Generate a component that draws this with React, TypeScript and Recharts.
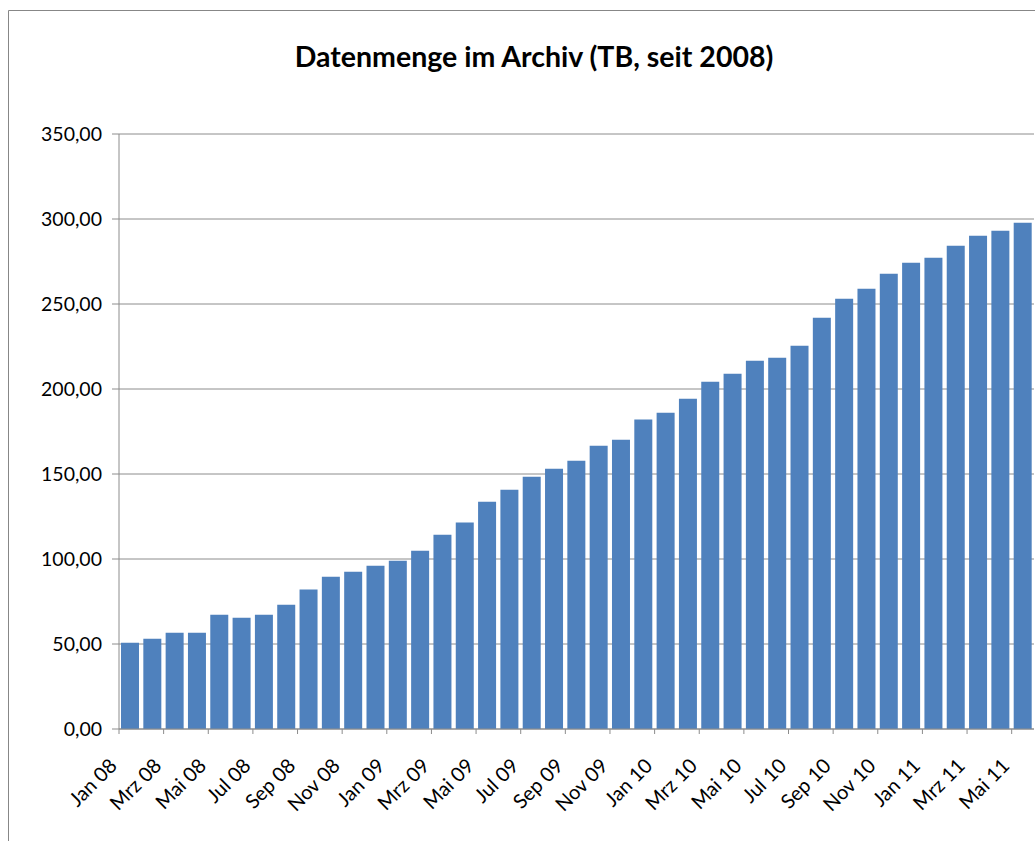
import React from 'react';
import { BarChart, Bar, XAxis, YAxis, CartesianGrid } from 'recharts';

// months Jan 08 .. Mai 11
const monthLabels = [
  'Jan 08', 'Feb 08', 'Mrz 08', 'Apr 08', 'Mai 08', 'Jun 08', 'Jul 08', 'Aug 08', 'Sep 08', 'Okt 08', 'Nov 08', 'Dez 08',
  'Jan 09', 'Feb 09', 'Mrz 09', 'Apr 09', 'Mai 09', 'Jun 09', 'Jul 09', 'Aug 09', 'Sep 09', 'Okt 09', 'Nov 09', 'Dez 09',
  'Jan 10', 'Feb 10', 'Mrz 10', 'Apr 10', 'Mai 10', 'Jun 10', 'Jul 10', 'Aug 10', 'Sep 10', 'Okt 10', 'Nov 10', 'Dez 10',
  'Jan 11', 'Feb 11', 'Mrz 11', 'Apr 11', 'Mai 11',
];

// TB im Archiv
const archiveTB = [
  50.8, 53.1, 56.6, 56.6, 67.2, 65.5, 67.2, 73.1, 82.0, 89.6, 92.5, 96.1,
  99.0, 104.9, 114.3, 121.4, 133.7, 140.8, 148.4, 153.1, 157.8, 166.6, 170.2, 182.0,
  186.1, 194.3, 204.3, 209.0, 216.6, 218.4, 225.5, 241.9, 253.1, 259.0, 267.8, 274.3,
  277.2, 284.3, 290.2, 293.1, 297.8,
];

const yTicks = [0, 50, 100, 150, 200, 250, 300, 350];

const data = monthLabels.map((m, i) => ({ month: m, tb: archiveTB[i] }));

const W = 1035;
const H = 841;
const LEFT = 119;
const RIGHT = 1;
const HALF_BAND = (W - LEFT - RIGHT) / monthLabels.length / 2;
const FONT = 'Lato, "Noto Sans", sans-serif';
const AXIS_GRAY = '#8c8c8c';

const MonthTick = (props: any) => {
  const { x, y, payload } = props;
  const bx = x - HALF_BAND;
  return (
    <g>
      <line x1={bx} y1={y} x2={bx} y2={y + 5} stroke={AXIS_GRAY} />
      <text
        x={x - 12}
        y={y + 38}
        textAnchor="end"
        transform={`rotate(-45, ${x - 12}, ${y + 38})`}
        fontFamily={FONT}
        fontSize={20}
        fill="#000"
      >
        {payload.value}
      </text>
    </g>
  );
};

export default function App() {
  return (
    <div style={{ position: 'absolute', left: 0, top: 0, width: W, height: H, background: '#fff' }}>
      <BarChart
        width={W}
        height={H}
        data={data}
        margin={{ top: 134, right: RIGHT, left: 0, bottom: 0 }}
        barCategoryGap="9%"
      >
        <CartesianGrid horizontal vertical={false} stroke={AXIS_GRAY} />
        <XAxis
          dataKey="month"
          interval={1}
          height={112}
          tickLine={false}
          tickSize={0}
          tickMargin={0}
          axisLine={{ stroke: AXIS_GRAY }}
          tick={<MonthTick />}
        />
        <YAxis
          width={LEFT}
          domain={[0, 350]}
          ticks={yTicks}
          tickSize={7}
          tickMargin={10}
          axisLine={{ stroke: AXIS_GRAY }}
          tickLine={{ stroke: AXIS_GRAY }}
          tickFormatter={(v: number) => v.toFixed(2).replace('.', ',')}
          tick={{ fontFamily: FONT, fontSize: 19.5, fill: '#000' }}
        />
        <Bar dataKey="tb" fill="#4f81bd" isAnimationActive={false} />
      </BarChart>
      <svg
        width={W}
        height={H}
        style={{ position: 'absolute', left: 0, top: 0, pointerEvents: 'none' }}
      >
        <path d={`M8.5,${H} V10.5 H${W}`} fill="none" stroke="#878787" />
        <text
          x={534}
          y={67}
          textAnchor="middle"
          fontFamily={FONT}
          fontWeight="bold"
          fontSize={28.5}
          fill="#000"
        >
          Datenmenge im Archiv (TB, seit 2008)
        </text>
      </svg>
    </div>
  );
}
